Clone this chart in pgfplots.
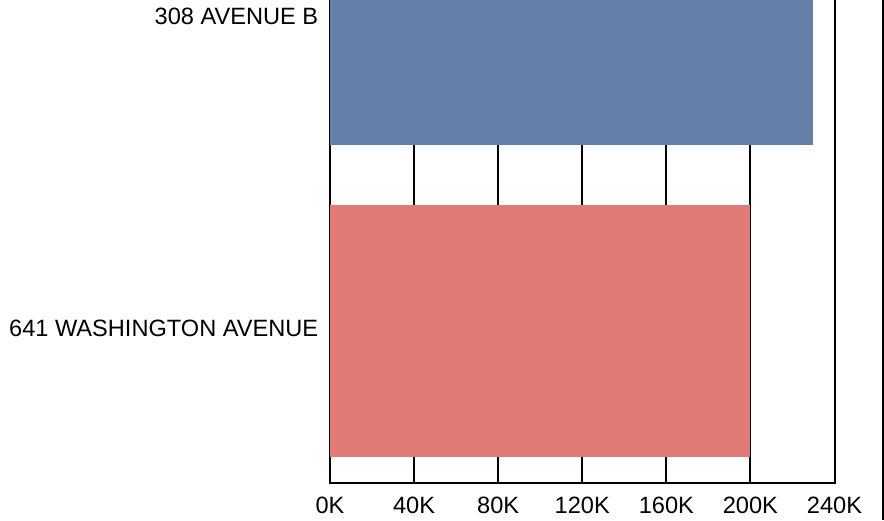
\documentclass[border=0pt]{standalone}
\usepackage{fontspec}
\setmainfont{Liberation Sans}
\usepackage{pgfplots}
\pgfplotsset{compat=1.18}

\definecolor{barblue}{HTML}{6580A8}
\definecolor{barred}{HTML}{E07A74}

\begin{document}
\begin{tikzpicture}
\begin{scope}
\clip (0,0) rectangle (442pt,-260pt);
\begin{axis}[
  at={(165pt,-241.5pt)}, anchor=south west,
  scale only axis,
  width=252.25pt, height=308pt,
  xmin=0, xmax=240000,
  ymin=-0.487, ymax=1.487,
  xbar, bar width=126pt, bar shift=0pt,
  xtick={0,40000,80000,120000,160000,200000,240000},
  xticklabels={0K,40K,80K,120K,160K,200K,240K},
  ytick={0,1},
  yticklabels={641 WASHINGTON AVENUE,308 AVENUE B},
  scaled x ticks=false,
  major tick length=0pt,
  xmajorgrids=true,
  grid style={black, line width=1pt},
  axis line style={black, line width=1pt},
  ticklabel style={font=\fontsize{11.8}{14}\selectfont, text=black},
  xticklabel style={inner sep=0pt, yshift=-7pt},
  yticklabel style={inner sep=0pt, xshift=-5.7pt, yshift=1.2pt},
]
\addplot[fill=barred, draw=none] coordinates {(200000,0)};
\addplot[fill=barblue, draw=none] coordinates {(229600,1)};
\end{axis}
\draw[black, line width=1pt] (441.35pt,0) -- (441.35pt,-260pt);
\end{scope}
\pgfresetboundingbox
\useasboundingbox (0,0) rectangle (442pt,-260pt);
\end{tikzpicture}
\end{document}
